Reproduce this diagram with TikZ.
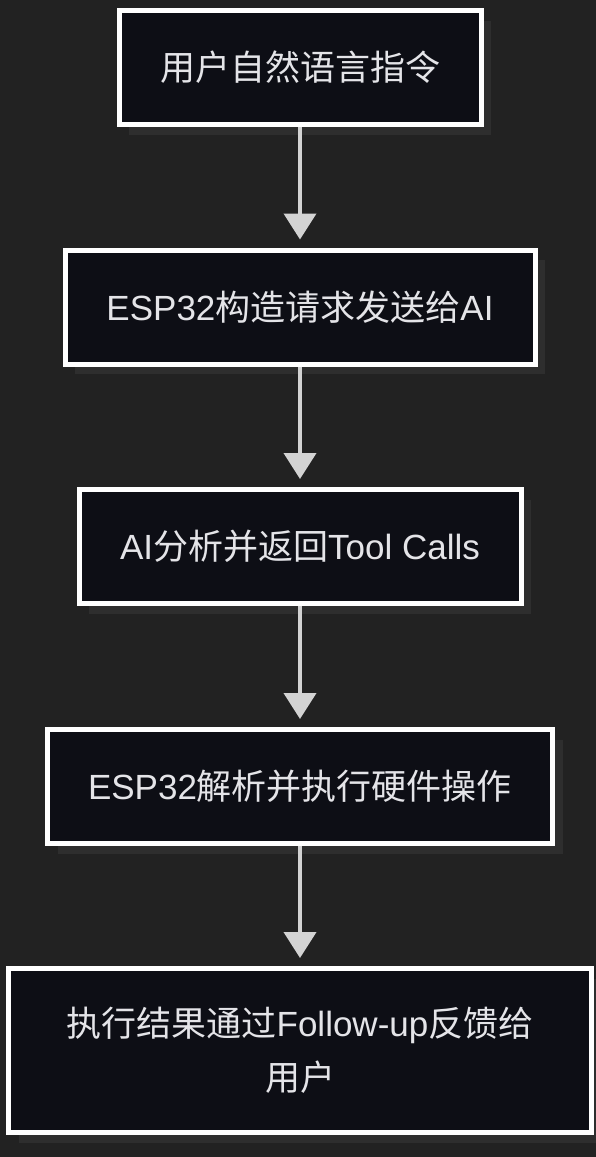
\documentclass[tikz,border=0pt]{standalone}
\usepackage{fontspec}
\setmainfont{Liberation Sans}
\newfontfamily\zh{Noto Sans CJK SC}
\usetikzlibrary{arrows.meta,shadows}
\definecolor{bgdark}{RGB}{34,34,34}
\definecolor{boxfill}{RGB}{13,14,21}
\definecolor{boxshadow}{RGB}{46,46,46}
\definecolor{arrowgray}{RGB}{211,211,211}
\definecolor{labelgray}{RGB}{228,228,232}

\tikzset{
  flowbox/.style={draw=white, line width=5pt, fill=boxfill, minimum height=114pt,
    text=labelgray, font=\fontsize{35}{54}\selectfont, align=center,
    drop shadow={shadow xshift=10pt, shadow yshift=-10pt, fill=boxshadow, opacity=1}},
  flowarrow/.style={-{Triangle[length=26pt,width=32pt]}, line width=4pt, draw=arrowgray, shorten >=8pt}
}

\begin{document}
\begin{tikzpicture}[x=1pt, y=-1pt]
    \useasboundingbox (0,0) rectangle (596,1157);
    \fill[bgdark] (0,0) rectangle (596,1157);

    \node[flowbox, minimum width=362pt] (instr) at (300,67.5) {\zh 用户自然语言指令};
    \node[flowbox, minimum width=470pt] (request) at (300,307) {ESP32{\zh 构造请求发送给}AI};
    \node[flowbox, minimum width=442pt] (toolcalls) at (300,546.5) {AI{\zh 分析并返回}Tool Calls};
    \node[flowbox, minimum width=505pt] (execute) at (300,786.5) {ESP32{\zh 解析并执行硬件操作}};
    \node[flowbox, minimum width=583pt, minimum height=164pt] (feedback) at (300,1050.5)
        {{\zh 执行结果通过}Follow-up{\zh 反馈给}\\{\zh 用户}};

    \draw[flowarrow] (instr) -- (request);
    \draw[flowarrow] (request) -- (toolcalls);
    \draw[flowarrow] (toolcalls) -- (execute);
    \draw[flowarrow] (execute) -- (feedback);
\end{tikzpicture}
\end{document}
